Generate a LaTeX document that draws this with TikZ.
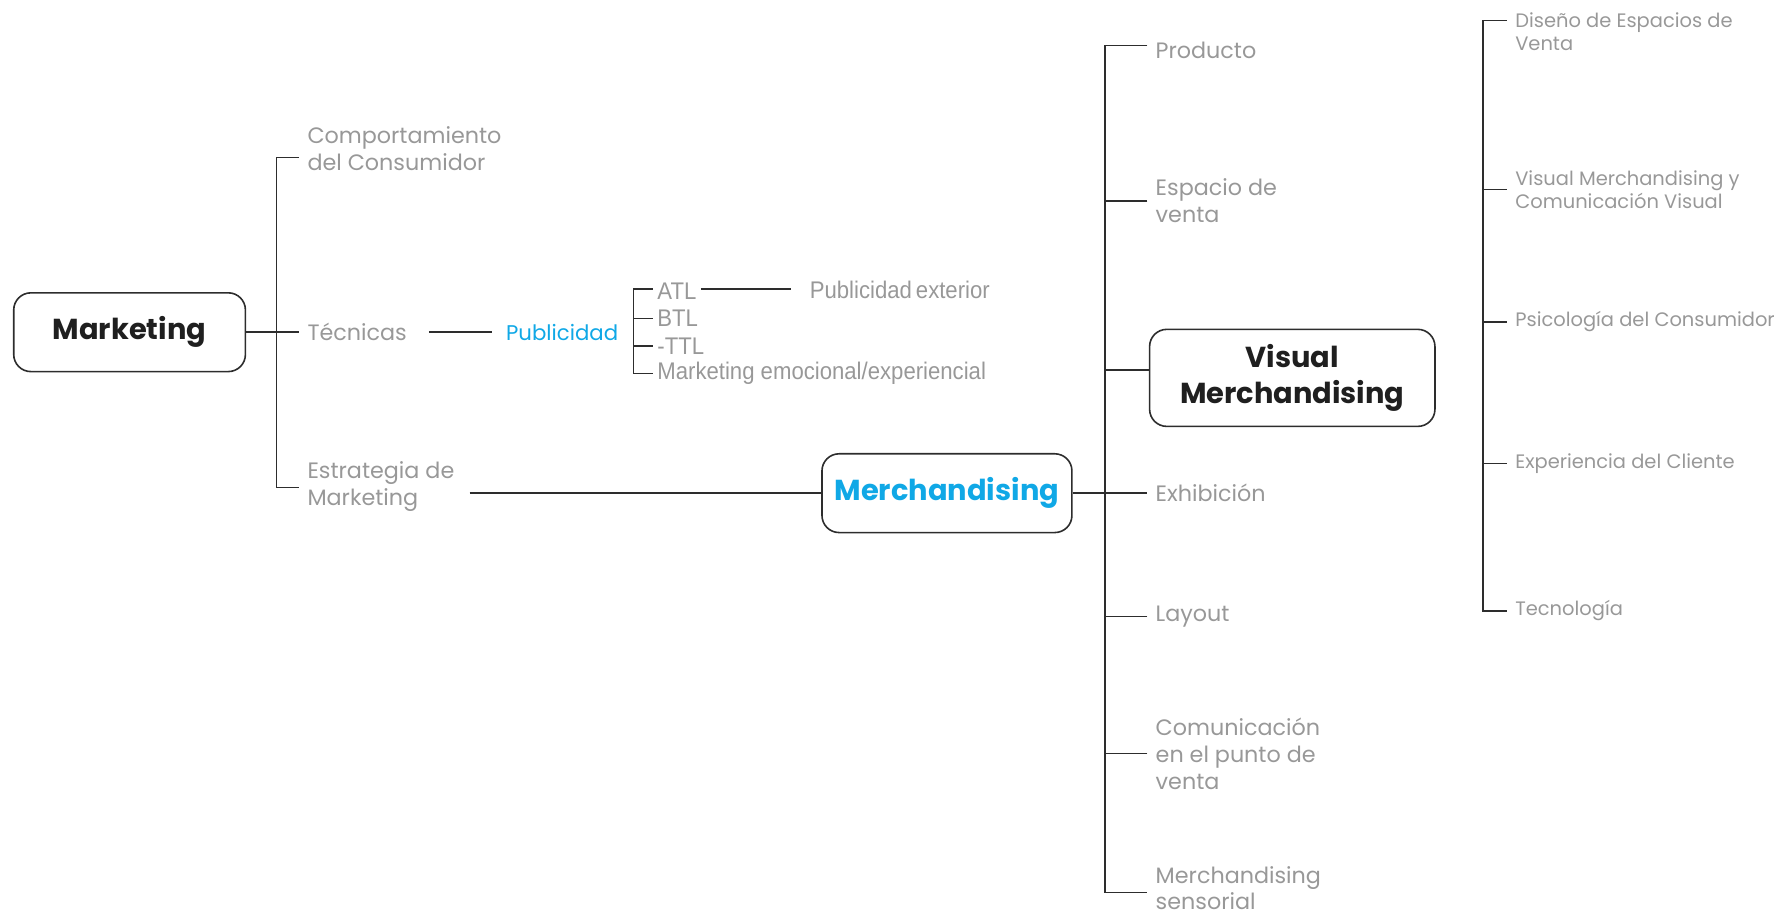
\documentclass[tikz,border=0pt]{standalone}
\usepackage{fontspec}
\usepackage{xcolor}
\usepackage{tikz}
\usetikzlibrary{positioning}
\setmainfont{Poppins}
\newfontfamily\arialfont[FakeStretch=0.92]{Liberation Sans}
\definecolor{mapgray}{RGB}{152,152,152}
\definecolor{mapblue}{RGB}{16,168,230}
\definecolor{mapline}{RGB}{45,45,45}

\begin{document}
\begin{tikzpicture}[x=0.02cm,y=-0.02cm]
\useasboundingbox (0,0) rectangle (1568,802);

\tikzstyle{hub} = [
	draw=mapline, line width=.8pt, rounded corners=.3cm,
	align=center, inner sep=0pt, text=black!88,
	font=\fontsize{14.4}{17.6}\selectfont\bfseries ];
\tikzstyle{topic} = [
	anchor=west, align=left, text=mapgray, inner xsep=4pt, inner ysep=0pt,
	font=\fontsize{11.1}{13.4}\selectfont ];
\tikzstyle{subtopic} = [topic, font=\fontsize{9.7}{11.6}\selectfont];
\tikzstyle{adtype} = [topic, inner xsep=2pt, font=\arialfont\fontsize{12}{13}\selectfont];
\tikzstyle{wire} = [draw=mapline, line width=.75pt];

% the three boxes
\node[hub, minimum width=4.06cm, minimum height=1.38cm] (mkt) at (113.5,291) {Marketing};
\node[hub, text=mapblue, minimum width=4.38cm, minimum height=1.38cm] (merch) at (829.5,432) {Merchandising};
\node[hub, minimum width=5cm, minimum height=1.7cm] (vm) at (1132,331) {Visual\\Merchandising};

% marketing
\node[topic] (cons) at (262,130) {Comportamiento\\del Consumidor};
\node[topic] (tec) at (262,291) {Técnicas};
\node[topic] (estr) at (262,426) {Estrategia de\\Marketing};
\coordinate (m1) at (242,138);
\coordinate (m2) at (242,427);
\draw[wire] (cons.west |- m1) -| (m2) -- (estr.west |- m2);
\draw[wire] (mkt) -- (tec);

\node[topic, text=mapblue, font=\fontsize{10.6}{13}\selectfont] (pub) at (436,291) {Publicidad};
\draw[wire, shorten <=.24cm, shorten >=.1cm] (tec) -- (pub);

\node[adtype] (atl) at (572,255) {ATL};
\node[adtype] (btl) at (572,279) {BTL};
\node[adtype] (ttl) at (572,303) {-TTL};
\node[adtype] (emo) at (572,327) {Marketing emocional/experiencial};
\coordinate (p1) at (555,253);
\draw[wire] (atl.west |- p1) -| (p1 |- emo.west) -- (emo.west);
\foreach \n in {btl,ttl} \draw[wire] (\n.west) -- (\n.west -| p1);

\node[adtype, inner xsep=0pt] (ext) at (709,254) {Publicidad\,exterior};
\draw[wire, shorten >=.32cm] (atl.east |- p1) -- (ext.west |- p1);

\draw[wire, shorten <=.12cm] (estr.east |- merch) -- (merch);

% merchandising
\node[topic] (prod) at (1005,44) {Producto};
\node[topic] (esp) at (1005,176) {Espacio de\\venta};
\node[topic] (exh) at (1005,432) {Exhibición};
\node[topic] (lay) at (1005,540) {Layout};
\node[topic] (com) at (1005,660) {Comunicación\\en el punto de\\venta};
\node[topic] (sens) at (1005,778) {Merchandising\\sensorial};
\coordinate (s1) at (968,40);
\coordinate (s2) at (968,782);
\coordinate (s3) at (968,324);
\draw[wire] (prod.west |- s1) -| (s2) -- (sens.west |- s2);
\foreach \n in {esp,lay,com} \draw[wire] (\n.west) -- (\n.west -| s1);
\draw[wire] (s3) -- (vm.west |- s3);
\draw[wire] (merch) -- (exh);

% visual merchandising
\node[subtopic] (dis) at (1320,28) {Diseño de Espacios de\\Venta};
\node[subtopic] (vmc) at (1320,166) {Visual Merchandising y\\Comunicación Visual};
\node[subtopic] (psi) at (1320,282) {Psicología del Consumidor};
\node[subtopic] (expc) at (1320,406) {Experiencia del Cliente};
\node[subtopic] (tecno) at (1320,535) {Tecnología};
\coordinate (v1) at (1299,18);
\coordinate (v2) at (1299,535);
\draw[wire] (dis.west |- v1) -| (v2) -- (tecno.west);
\foreach \n in {vmc,psi,expc} \draw[wire] (\n.west) -- (\n.west -| v1);

\end{tikzpicture}
\end{document}
